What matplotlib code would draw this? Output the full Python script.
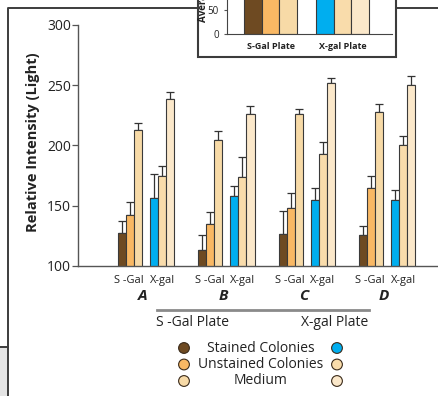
import numpy as np
import matplotlib.pyplot as plt
from matplotlib.patches import Rectangle

plt.rcParams['font.family'] = ['Open Sans', 'DejaVu Sans']

# Data
groups = ['A', 'B', 'C', 'D']
plates = ['S -Gal', 'X-gal']
series = ['Stained Colonies', 'Unstained Colonies', 'Medium']

sgal_stained = [127.4, 113.0, 126.3, 125.2]
sgal_unstained = [141.9, 134.4, 147.7, 164.3]
sgal_medium = [212.5, 204.2, 225.8, 227.7]
xgal_stained = [156.5, 157.6, 154.3, 154.9]
xgal_unstained = [174.5, 173.5, 192.8, 200.6]
xgal_medium = [238.5, 226.1, 251.6, 250.4]

# upper error bars only
sgal_stained_err = [9.5, 12.5, 19.0, 8.0]
sgal_unstained_err = [11.0, 10.0, 13.0, 10.0]
sgal_medium_err = [6.0, 7.5, 4.5, 7.0]
xgal_stained_err = [20.0, 9.0, 10.5, 8.0]
xgal_unstained_err = [8.5, 17.0, 10.0, 7.0]
xgal_medium_err = [5.5, 6.5, 4.0, 7.0]

# inset (top of it is cut off in the source)
inset_labels = ['S-Gal Plate', 'X-gal Plate']
inset_sgal = [115, 105, 100]
inset_xgal = [112, 104, 98]

sgal_colors = ['#6e4a22', '#f9b864', '#f7daa7']
xgal_colors = ['#00aeef', '#f9dcab', '#fbe8ca']
edge = '#3a3a3a'

W, H = 438, 396
fig = plt.figure(figsize=(W / 100, H / 100), dpi=100)

# overlay in pixel coordinates for frame + legend
ov = fig.add_axes([0, 0, 1, 1])
ov.set_xlim(0, W)
ov.set_ylim(H, 0)
ov.axis('off')
ov.plot([8, 8, W], [H, 8, 8], color='#3c3c3c', lw=1.4)
ov.add_patch(Rectangle((0, 347), 8, H - 347, fc='#e4e4e4', ec='none'))
ov.plot([0, 8], [347, 347], color='#3c3c3c', lw=1.4)
ov.add_patch(Rectangle((198, -10), 198, 67, fc='white', ec='#3c3c3c', lw=1.5, zorder=3))

# legend
leg_y = [348, 364.5, 381]
ov.scatter([184] * 3, leg_y, c=sgal_colors, s=60, edgecolors='#3a2a1a', linewidths=0.8)
ov.scatter([337] * 3, leg_y, c=xgal_colors, s=60, edgecolors='#3a2a1a', linewidths=0.8)
for yy, name in zip(leg_y, series):
    ov.text(261, yy, name, ha='center', va='center', fontsize=10, color='#222222')

# plate brackets under the group letters
ov.plot([157, 369], [310, 310], color='#8a8a8a', lw=2)
ov.text(192, 323, 'S -Gal Plate', ha='center', va='center', fontsize=10, color='#222222')
ov.text(335, 323, 'X-gal Plate', ha='center', va='center', fontsize=10, color='#222222')

# main chart
ax = fig.add_axes([78 / W, 1 - 265.7 / H, (W - 78) / W, (265.7 - 25) / H])
ax.patch.set_visible(False)

base = np.arange(len(groups)) * 10.0
sgal = [sgal_stained, sgal_unstained, sgal_medium]
sgal_err = [sgal_stained_err, sgal_unstained_err, sgal_medium_err]
xgal = [xgal_stained, xgal_unstained, xgal_medium]
xgal_err = [xgal_stained_err, xgal_unstained_err, xgal_medium_err]

for p, (vals, errs, cols) in enumerate([(sgal, sgal_err, sgal_colors), (xgal, xgal_err, xgal_colors)]):
    for k in range(3):
        x = base + p * 4 + k + 0.5
        ax.bar(x, vals[k], width=1.0, bottom=0, color=cols[k], edgecolor=edge, linewidth=0.8, zorder=2)
        ax.errorbar(x, vals[k], yerr=[np.zeros(4), errs[k]], fmt='none', ecolor='#333333',
                    elinewidth=0.9, capsize=2.6, capthick=0.9, zorder=1)

ax.set_ylim(100, 300)
ax.set_xlim(-4.98, 39.85)
ax.set_yticks([100, 150, 200, 250, 300])
ax.tick_params(axis='y', labelsize=10, length=4, width=0.9, color='#555555', labelcolor='#222222', pad=1)

tick_x = []
tick_lab = []
for b in base:
    tick_x += [b + 1.4, b + 5.5]
    tick_lab += plates
ax.set_xticks(tick_x)
ax.set_xticklabels(tick_lab, fontsize=8, color='#222222')
ax.tick_params(axis='x', length=0, pad=7)

for b, g in zip(base, groups):
    ax.text(b + 3.1, -0.126, g, transform=ax.get_xaxis_transform(), ha='center', va='center',
            fontsize=11, fontweight='bold', fontstyle='italic', color='#222222')

for s in ['top', 'right']:
    ax.spines[s].set_visible(False)
for s in ['left', 'bottom']:
    ax.spines[s].set_color('#555555')
    ax.spines[s].set_linewidth(1.0)

ax.set_ylabel('Relative Intensity (Light)', fontsize=10.5, fontweight='bold', color='#222222')
ax.yaxis.set_label_coords(-0.105, 0.515)

# inset
ins = fig.add_axes([227 / W, 1 - 34 / H, (392 - 227) / W, 34 / H])
ins.patch.set_visible(False)
ins.bar([1.5, 2.5, 3.5], inset_sgal, width=1.0, color=sgal_colors, edgecolor=edge, linewidth=0.8)
ins.bar([5.6, 6.6, 7.6], inset_xgal, width=1.0, color=xgal_colors, edgecolor=edge, linewidth=0.8)
ins.set_ylim(0, 70)
ins.set_xlim(0, 9.43)
ins.set_yticks([0, 50])
ins.tick_params(axis='y', labelsize=7, length=2, pad=4, color='#555555', labelcolor='#222222')
ins.set_xticks([2.5, 6.6])
ins.set_xticklabels(inset_labels, fontsize=6.5, fontweight='bold', color='#222222')
ins.tick_params(axis='x', length=0, pad=6)
for s in ['top', 'right']:
    ins.spines[s].set_visible(False)
for s in ['left', 'bottom']:
    ins.spines[s].set_color('#444444')
ins.set_ylabel('Average Intensity', fontsize=7, fontweight='bold', color='#222222')
ins.yaxis.set_label_coords(-0.11, 0.35)
ins.yaxis.label.set_va('bottom')
ins.yaxis.label.set_ha('left')

fig.savefig('out.png', dpi=100)
